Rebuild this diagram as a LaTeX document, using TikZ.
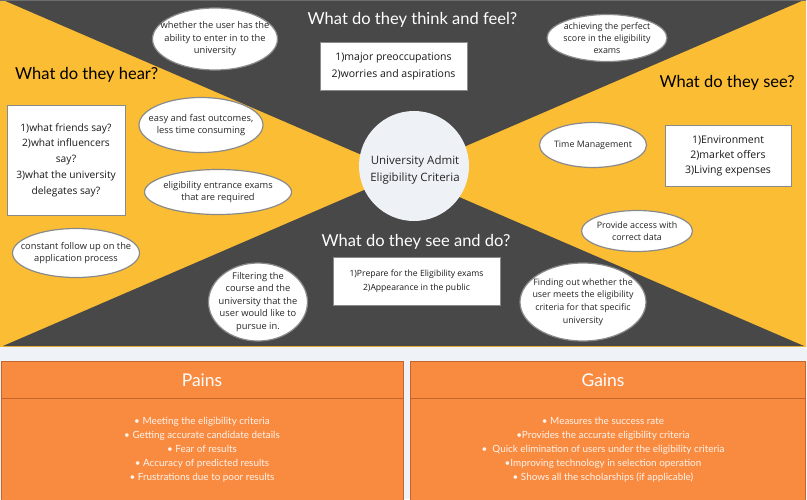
\documentclass[tikz,border=0pt]{standalone}
\usepackage{fontspec}
\setmainfont{Lato}
\newfontfamily\osans{Open Sans}
\usetikzlibrary{shapes.geometric}

\definecolor{mapyellow}{HTML}{FBBD33}
\definecolor{mapdark}{HTML}{484848}
\definecolor{maporange}{HTML}{F98B41}
\definecolor{maporangeedge}{HTML}{C4652B}
\definecolor{mapband}{HTML}{EFF2F7}
\definecolor{hubfill}{HTML}{EEF1F6}
\definecolor{bubbleedge}{HTML}{8A8A8A}
\definecolor{bullettext}{HTML}{FFF3EA}

\tikzset{
  bubble/.style={ellipse, draw=bubbleedge, line width=1.2pt, fill=white, inner sep=0pt},
  bubbletext/.style={align=center, inner sep=0pt, text=black!85, font=\osans\fontsize{9.3}{12.5}\selectfont},
  notebox/.style={rectangle, draw=bubbleedge, line width=0.8pt, fill=white,
    inner sep=0pt, align=center, text=black!90},
  quadtitle/.style={font=\fontsize{16.5}{19}\selectfont, inner sep=0pt},
  hub/.style={circle, fill=hubfill, minimum size=110pt, inner sep=0pt},
  hubtext/.style={align=center, inner sep=0pt, font=\osans\fontsize{11.5}{17}\selectfont, text=black!85},
  panel/.style={rectangle, draw=maporangeedge, line width=0.9pt, fill=maporange, inner sep=0pt},
  paneltitle/.style={font=\fontsize{17.5}{20}\selectfont, text=white, inner sep=0pt},
  panellist/.style={font=\fontsize{9.9}{14}\selectfont, text=bullettext, align=center, inner sep=0pt}
}

% an idea bubble: outline of fixed size, text placed on its centre
% #1 name, #2 centre, #3 width, #4 height, #5 extra text options, #6 text
\newcommand{\ideabubble}[6]{%
  \node[bubble, minimum width=#3pt, minimum height=#4pt] (#1) at (#2) {};
  \node[bubbletext, #5] (#1-text) at (#1.center) {#6};}

\begin{document}
\begin{tikzpicture}[x=1pt,y=-1pt]
\useasboundingbox (0,0) rectangle (807,499);

% page background and the empathy-map field
\fill[mapband] (0,0) rectangle (807,499);
\fill[mapyellow] (0,0) rectangle (806,347);
\coordinate (mid) at (403.5,173);
\fill[mapdark] (3,0) -- (804,0) -- (mid) -- cycle;
\fill[mapdark] (3,346) -- (804,346) -- (mid) -- cycle;
\draw[mapdark!80, line width=1.5pt] (0,0.7) -- (806,0.7);

% quadrant headings
\node[quadtitle, text=white] (tthink) at (412.5,20) {What do they think and feel?};
\node[quadtitle, text=black, anchor=west] (thear) at (15,75) {What do they hear?};
\node[quadtitle, text=black, anchor=east] (tsee) at (795,83) {What do they see?};
\node[quadtitle, text=white] (tdo) at (416,242) {What do they see and do?};

% central hub
\node[hub] (hub) at (414,166) {};
\node[hubtext] (hublabel) at (415,170) {University Admit\\Eligibility Criteria};

% note boxes
\node[notebox, minimum width=147pt, minimum height=48pt,
  font=\osans\fontsize{10.5}{17}\selectfont] (bthink) at (393.5,66)
  {1)major preoccupations\\2)worries and aspirations};
\node[notebox, minimum width=118pt, minimum height=110pt,
  font=\osans\fontsize{10.2}{15.7}\selectfont] (bhear) at (66,160)
  {1)what friends say?\\2)what influencers\\say?\\3)what the university\\delegates say?};
\node[notebox, minimum width=126pt, minimum height=61pt,
  font=\osans\fontsize{10.5}{15}\selectfont] (bsee) at (728,156)
  {1)Environment\\2)market offers\\3)Living expenses};
\node[notebox, minimum width=167pt, minimum height=48pt,
  font=\osans\fontsize{8.6}{14}\selectfont] (bdo) at (416.5,281)
  {1)Prepare for the Eligibility exams\\2)Appearance in the public};

% idea bubbles
\ideabubble{e1}{215,39}{125}{62}{}{whether the user has the\\ability to enter in to the\\university}
\ideabubble{e2}{201,125}{124}{55}{}{easy and fast outcomes,\\less time consuming}
\ideabubble{e3}{218,192}{147}{45}{}{eligibility entrance exams\\that are required}
\ideabubble{e4}{76,253}{127}{49}{}{constant follow up on the\\application process}
\ideabubble{e5}{258,302}{99}{78}{}{Filtering the\\course and the\\university that the\\user would like to\\pursue in.}
\ideabubble{e6}{607,38}{120}{47}{font=\osans\fontsize{8.9}{12}\selectfont}{achieving the perfect\\score in the eligibility\\exams}
\ideabubble{e7}{593,145}{107}{45}{font=\osans\fontsize{8.9}{12}\selectfont}{Time Management}
\ideabubble{e8}{637,231}{111}{41}{font=\osans\fontsize{8.9}{12.5}\selectfont}{Provide access with\\correct data}
\ideabubble{e9}{583,302}{126}{78}{font=\osans\fontsize{8.9}{12.7}\selectfont}{Finding out whether the\\user meets the eligibility\\criteria for that specific\\university}

% pains and gains panels
\node[panel, minimum width=402pt, minimum height=145pt, anchor=north west] (pains) at (1,361) {};
\draw[maporangeedge, line width=0.9pt] (1,398) -- (403,398);
\node[paneltitle] (painstitle) at (202,380) {Pains};
\node[panellist] (painslist) at (202,450)
  {• Meeting the eligibility criteria\\• Getting accurate candidate details\\• Fear of results\\• Accuracy of predicted results\\• Frustrations due to poor results};

\node[panel, minimum width=395pt, minimum height=145pt, anchor=north west] (gains) at (410,361) {};
\draw[maporangeedge, line width=0.9pt] (410,398) -- (805,398);
\node[paneltitle] (gainstitle) at (603,380) {Gains};
\node[panellist] (gainslist) at (603,450)
  {• Measures the success rate\\•Provides the accurate eligibility criteria\\•\ \ Quick elimination of users under the eligibility criteria\\•Improving technology in selection operation\\• Shows all the scholarships (if applicable)};
\end{tikzpicture}
\end{document}
